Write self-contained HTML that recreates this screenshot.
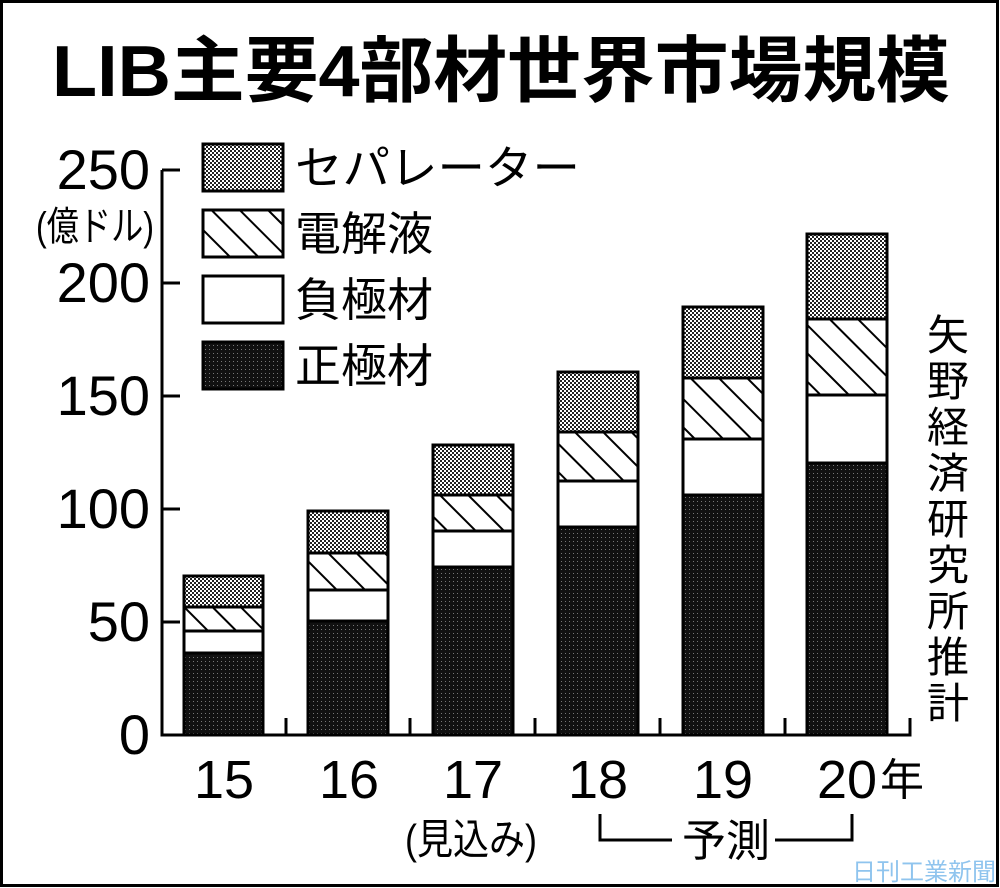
<!DOCTYPE html>
<html><head><meta charset="utf-8"><style>html,body{margin:0;padding:0;background:#fff}svg{display:block}</style></head><body>
<svg width="1000" height="888" viewBox="0 0 1000 888" xmlns="http://www.w3.org/2000/svg">
<defs>
<pattern id="chk" width="4" height="4" patternUnits="userSpaceOnUse"><rect width="4" height="4" fill="#fff"/><rect width="2" height="2" fill="#222"/><rect x="2" y="2" width="2" height="2" fill="#222"/></pattern>
<pattern id="dk" width="4" height="4" patternUnits="userSpaceOnUse"><rect width="4" height="4" fill="#111"/><rect x="1" y="1" width="1" height="1" fill="#777"/></pattern>
<pattern id="hat" width="20" height="20" patternUnits="userSpaceOnUse" patternTransform="rotate(-45)"><rect width="20" height="20" fill="#fff"/><line x1="0" y1="0" x2="0" y2="20" stroke="#000" stroke-width="4"/></pattern>
</defs>
<rect x="1.5" y="1.5" width="996" height="884" fill="#fff" stroke="#000" stroke-width="3"/>
<text x="52" y="96" font-family="Liberation Sans, Noto Sans CJK JP, sans-serif" font-weight="bold" font-size="72" textLength="898" lengthAdjust="spacingAndGlyphs">LIB主要4部材世界市場規模</text>
<g font-family="Liberation Sans, Noto Sans CJK JP, sans-serif" font-size="56" text-anchor="end">
<text x="150" y="189">250</text><text x="150" y="302">200</text><text x="150" y="415">150</text><text x="150" y="528">100</text><text x="150" y="641">50</text><text x="150" y="754">0</text>
</g>
<text x="36" y="240" font-family="Liberation Sans, Noto Sans CJK JP, sans-serif" font-size="40" textLength="118" lengthAdjust="spacingAndGlyphs">(億ドル)</text>
<g stroke="#000" stroke-width="3" fill="none">
<path d="M162 170 V735 H910 V718"/>
<path d="M162 170 H180 M162 283 H180 M162 396 H180 M162 509 H180 M162 622 H180"/>
<path d="M286 735 V718 M410 735 V718 M535 735 V718 M660 735 V718 M785 735 V718"/>
</g>
<g stroke="#000" stroke-width="3">
<rect x="184" y="653" width="79" height="82" fill="url(#dk)"/><rect x="184" y="631" width="79" height="22" fill="#fff"/><rect x="184" y="607" width="79" height="24" fill="url(#hat)"/><rect x="184" y="576" width="79" height="31" fill="url(#chk)"/>
<rect x="308" y="621" width="80" height="114" fill="url(#dk)"/><rect x="308" y="590" width="80" height="31" fill="#fff"/><rect x="308" y="553" width="80" height="37" fill="url(#hat)"/><rect x="308" y="511" width="80" height="42" fill="url(#chk)"/>
<rect x="433" y="567" width="80" height="168" fill="url(#dk)"/><rect x="433" y="531" width="80" height="36" fill="#fff"/><rect x="433" y="495" width="80" height="36" fill="url(#hat)"/><rect x="433" y="445" width="80" height="50" fill="url(#chk)"/>
<rect x="558" y="527" width="80" height="208" fill="url(#dk)"/><rect x="558" y="481" width="80" height="46" fill="#fff"/><rect x="558" y="432" width="80" height="49" fill="url(#hat)"/><rect x="558" y="372" width="80" height="60" fill="url(#chk)"/>
<rect x="683" y="495" width="80" height="240" fill="url(#dk)"/><rect x="683" y="439" width="80" height="56" fill="#fff"/><rect x="683" y="378" width="80" height="61" fill="url(#hat)"/><rect x="683" y="307" width="80" height="71" fill="url(#chk)"/>
<rect x="807" y="463" width="80" height="272" fill="url(#dk)"/><rect x="807" y="395" width="80" height="68" fill="#fff"/><rect x="807" y="319" width="80" height="76" fill="url(#hat)"/><rect x="807" y="234" width="80" height="85" fill="url(#chk)"/>
<rect x="203" y="144" width="80" height="47" fill="url(#chk)"/>
<rect x="203" y="210" width="80" height="47" fill="url(#hat)"/>
<rect x="203" y="276" width="80" height="47" fill="#fff"/>
<rect x="203" y="342" width="80" height="47" fill="url(#dk)"/>
</g>
<g font-family="Liberation Sans, Noto Sans CJK JP, sans-serif" font-size="46">
<text x="295" y="184" textLength="285" lengthAdjust="spacingAndGlyphs">セパレーター</text>
<text x="295" y="250">電解液</text>
<text x="295" y="316">負極材</text>
<text x="295" y="382">正極材</text>
</g>
<g font-family="Liberation Sans, Noto Sans CJK JP, sans-serif" font-size="54" text-anchor="middle">
<text x="224" y="798">15</text><text x="349" y="798">16</text><text x="473" y="798">17</text><text x="598" y="798">18</text><text x="723" y="798">19</text><text x="847" y="798">20</text>
</g>
<text x="880" y="795" font-family="Liberation Sans, Noto Sans CJK JP, sans-serif" font-size="44">年</text>
<text x="405" y="854" font-family="Liberation Sans, Noto Sans CJK JP, sans-serif" font-size="42" textLength="132" lengthAdjust="spacingAndGlyphs">(見込み)</text>
<path d="M600 814 V840 H672 M775 840 H852 V814" stroke="#000" stroke-width="3" fill="none"/>
<text x="682" y="856" font-family="Liberation Sans, Noto Sans CJK JP, sans-serif" font-size="44">予測</text>
<g font-family="Liberation Sans, Noto Sans CJK JP, sans-serif" font-size="42" text-anchor="middle">
<text x="948" y="350">矢</text><text x="948" y="396">野</text><text x="948" y="442">経</text><text x="948" y="488">済</text><text x="948" y="534">研</text><text x="948" y="580">究</text><text x="948" y="626">所</text><text x="948" y="672">推</text><text x="948" y="718">計</text>
</g>
<text x="852" y="880" font-family="Liberation Sans, Noto Sans CJK JP, sans-serif" font-size="24" fill="#8fc4ee" textLength="144" lengthAdjust="spacingAndGlyphs">日刊工業新聞</text>
</svg>
</body></html>
